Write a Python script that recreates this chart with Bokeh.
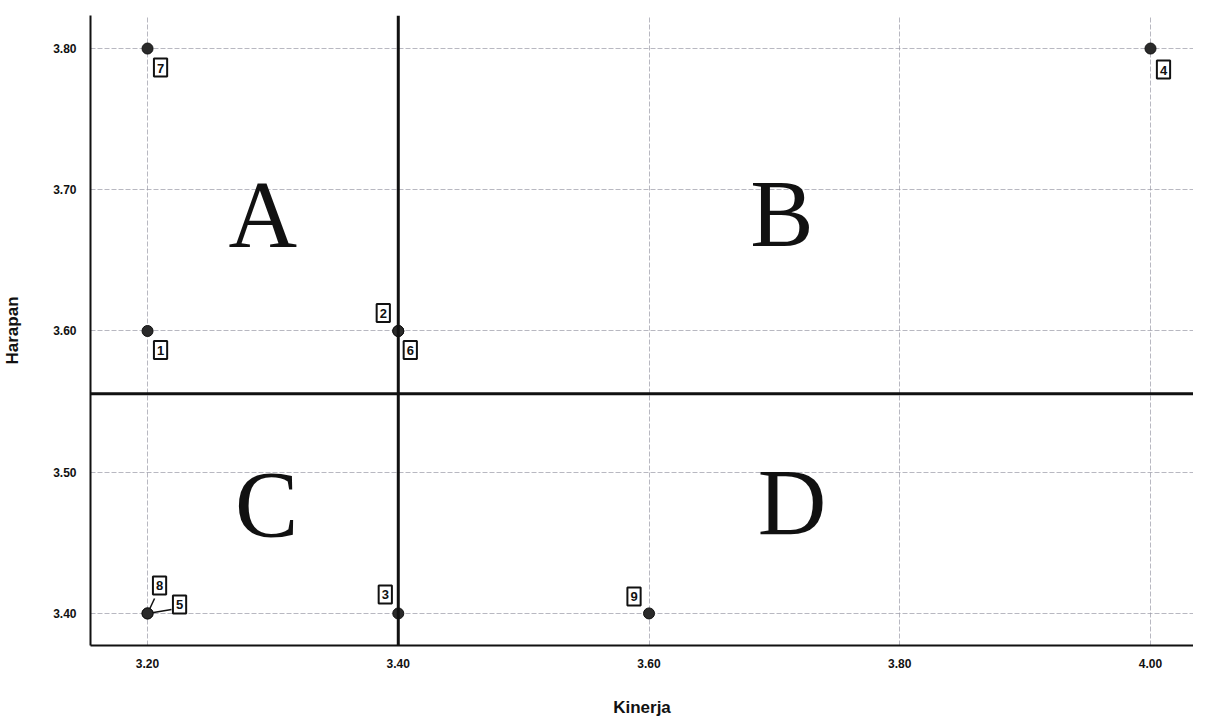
from bokeh.plotting import figure
from bokeh.models import Span, Label, FixedTicker, NumeralTickFormatter, Range1d
from bokeh.embed import file_html
from bokeh.resources import INLINE

# ---- data ----
ids = ["1", "2", "3", "4", "5", "6", "7", "8", "9"]
kinerja = [3.20, 3.40, 3.40, 4.00, 3.20, 3.40, 3.20, 3.20, 3.60]
harapan = [3.60, 3.60, 3.40, 3.80, 3.40, 3.60, 3.80, 3.40, 3.40]
x_ticks = [3.20, 3.40, 3.60, 3.80, 4.00]
y_ticks = [3.40, 3.50, 3.60, 3.70, 3.80]
quadrants = ["A", "B", "C", "D"]
quad_x = [3.292, 3.706, 3.295, 3.714]
quad_y = [3.682, 3.683, 3.477, 3.478]

# ---- layout (screen px) ----
label_dx = [13, -15, -13, 13, 32, 12, 13, 12, -15]
label_dy = [-19, 18, 19, -21, 9, -19, -19, 28, 17]
leader_ids = ["8", "5"]
leader_dx = [7, 24]
leader_dy = [15, 4]

FW, FH = 1103, 630
x0, x1 = 3.1545, 4.0343
y0, y1 = 3.3773, 3.8234

mean_x = sum(kinerja) / len(kinerja)
mean_y = sum(harapan) / len(harapan)

p = figure(frame_width=FW, frame_height=FH, output_backend="svg", toolbar_location=None,
           x_range=Range1d(x0, x1), y_range=Range1d(y0, y1),
           min_border_left=82, min_border_top=15, min_border_right=0, min_border_bottom=55,
           background_fill_color="white", border_fill_color="white")
p.outline_line_color = None

for ax in (p.xaxis[0], p.yaxis[0]):
    ax.axis_line_color = "#111111"
    ax.axis_line_width = 2
    ax.major_tick_line_color = None
    ax.minor_tick_line_color = None
    ax.major_label_text_font = "Liberation Sans"
    ax.major_label_text_font_style = "bold"
    ax.major_label_text_font_size = "12px"
    ax.major_label_text_color = "#111111"
    ax.axis_label_text_font = "Liberation Sans"
    ax.axis_label_text_font_style = "bold"
    ax.axis_label_text_font_size = "17px"
    ax.axis_label_text_color = "#111111"
    ax.formatter = NumeralTickFormatter(format="0.00")

p.xaxis.ticker = FixedTicker(ticks=x_ticks)
p.yaxis.ticker = FixedTicker(ticks=y_ticks)
p.xaxis.axis_label = "Kinerja"
p.yaxis.axis_label = "Harapan"
p.xaxis.major_label_standoff = 7
p.yaxis.major_label_standoff = 8
p.xaxis.axis_label_standoff = 27
p.yaxis.axis_label_standoff = 28

for g in (p.xgrid[0], p.ygrid[0]):
    g.grid_line_color = "#9a9aa6"
    g.grid_line_dash = "5 2"
    g.grid_line_width = 1
    g.grid_line_alpha = 0.7
p.xgrid.ticker = FixedTicker(ticks=x_ticks)
p.ygrid.ticker = FixedTicker(ticks=y_ticks)

# mean reference lines
p.add_layout(Span(location=mean_x, dimension="height", line_color="#111111", line_width=3))
p.add_layout(Span(location=mean_y, dimension="width", line_color="#111111", line_width=3))

# quadrant letters
for t, qx, qy in zip(quadrants, quad_x, quad_y):
    p.add_layout(Label(x=qx, y=qy, text=t, text_font="Liberation Serif",
                       text_font_size="95px", text_color="#111111",
                       text_align="center", text_baseline="alphabetic"))

# leader lines
kx = (x1 - x0) / FW
ky = (y1 - y0) / FH
for lid, ldx, ldy in zip(leader_ids, leader_dx, leader_dy):
    i = ids.index(lid)
    p.segment(x0=[kinerja[i]], y0=[harapan[i]],
              x1=[kinerja[i] + ldx * kx], y1=[harapan[i] + ldy * ky],
              line_color="#111111", line_width=1.5)

# points
p.scatter(kinerja, harapan, size=11, fill_color="#2a2a2a", line_color="#111111")

# point labels
for t, kx_, hy, dx, dy in zip(ids, kinerja, harapan, label_dx, label_dy):
    p.add_layout(Label(x=kx_, y=hy, x_offset=dx, y_offset=dy, text=t,
                       text_font="Liberation Sans", text_font_style="bold",
                       text_font_size="13px", text_color="#111111",
                       text_align="center", text_baseline="middle",
                       border_line_color="#111111", border_line_width=2,
                       background_fill_color="white",
                       padding=dict(left=3, right=3, top=5, bottom=4)))

open("out.html", "w").write(file_html(p, INLINE))
